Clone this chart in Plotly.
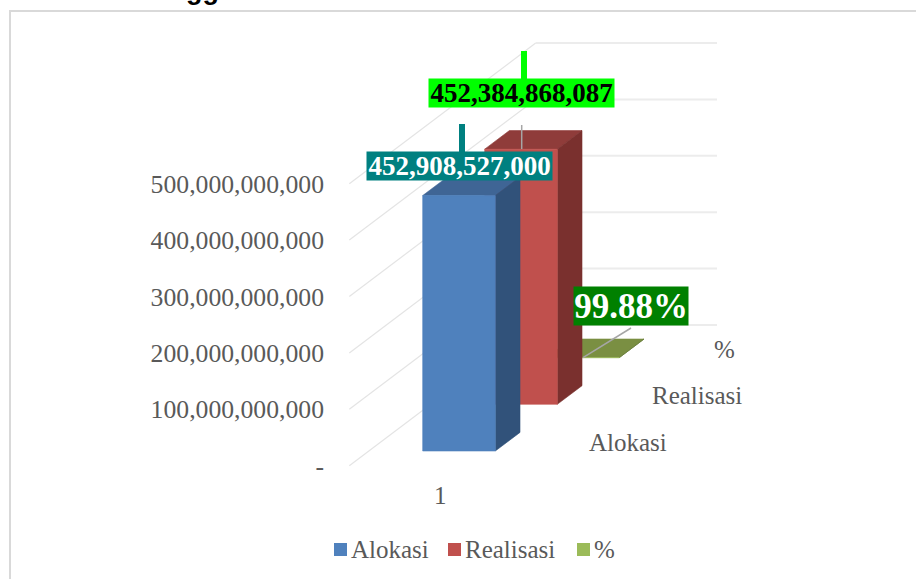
import plotly.graph_objects as go

# ---- data ----
categories = ["1"]
series_names = ["Alokasi", "Realisasi", "%"]
series_values = [452908527000, 452384868087, 0.9988]
series_labels = ["452,908,527,000", "452,384,868,087", "99.88%"]
tick_values = [0, 100e9, 200e9, 300e9, 400e9, 500e9]
tick_labels = ["-", "100,000,000,000", "200,000,000,000", "300,000,000,000",
               "400,000,000,000", "500,000,000,000"]

# ---- style ----
FRONT = ["#4f81bd", "#c0504d", "#9bbb59"]
SIDE = ["#31527a", "#7a302e", "#647a38"]
ROOF = ["#3f6595", "#8f3c3a", "#7a8f42"]
TXT = "#595959"
SERIF = "Liberation Serif"
W, H = 916, 579
PX_PER_VAL = 56.4 / 100e9   # pixels per unit of value
Y0 = 465.7                  # pixel row of value 0 at the front of the floor


def val(px_y):
    """value whose axis position is at pixel row px_y"""
    return (Y0 - px_y) / PX_PER_VAL


def lift(px):
    return px / PX_PER_VAL


BAR_X0, BAR_W = 422.7, 72.6
STEP_X, STEP_Y = 62.0, 46.7
DEPTH_X, DEPTH_Y = 24.7, 18.6
BASE_UP = 14.7
WALL_X, WALL_UP = 186.4, 140.7
FLOOR_X0, WALL_END = 349.3, 717.0

fig = go.Figure()

# gridlines
for i, t in enumerate(tick_values):
    fig.add_trace(go.Scatter(
        x=[FLOOR_X0, FLOOR_X0 + WALL_X], y=[t, t + lift(WALL_UP)], mode="lines",
        line=dict(color="#e4e4e4", width=1.2), showlegend=False, hoverinfo="skip"))
    fig.add_trace(go.Scatter(
        x=[FLOOR_X0 + WALL_X, WALL_END], y=[t + lift(WALL_UP)] * 2, mode="lines",
        line=dict(color="#ececec", width=2), showlegend=False, hoverinfo="skip"))


def poly(xs, ys, color):
    fig.add_trace(go.Scatter(
        x=xs + xs[:1], y=ys + ys[:1], mode="lines", fill="toself", fillcolor=color,
        line=dict(color=color, width=0.6), showlegend=False, hoverinfo="skip"))


# bars, back to front
for i in reversed(range(len(series_values))):
    x0 = BAR_X0 + i * STEP_X
    x1 = x0 + BAR_W
    b = lift(BASE_UP + i * STEP_Y)
    t = b + series_values[i]
    d = lift(DEPTH_Y)
    poly([x0, x1, x1 + DEPTH_X, x0 + DEPTH_X], [t, t, t + d, t + d], ROOF[i])
    poly([x1, x1 + DEPTH_X, x1 + DEPTH_X, x1], [b, b + d, t + d, t], SIDE[i])
    poly([x0, x1, x1, x0], [b, b, t, t], FRONT[i])

# legend entries: one legend per series, so each can sit at its own place.
# Plotly's swatch-to-text gap is wider than the reference's, so the swatch is a
# square drawn beside the entry text.
LEGEND_IDS = ["legend", "legend2", "legend3"]
LEGEND_SWATCH_X = [334, 448, 577]
LEGEND_TEXT_X = [352, 466, 595]
for i, n in enumerate(series_names):
    fig.add_trace(go.Scatter(
        x=[None], y=[None], mode="markers", name=n, legend=LEGEND_IDS[i],
        marker=dict(symbol="square", size=1, color="rgba(0,0,0,0)")))

# leader lines
shapes = [
    dict(type="rect", x0=459, x1=465, y0=val(152), y1=val(124), fillcolor="#008080", line_width=0),
    dict(type="rect", x0=521, x1=527, y0=val(79), y1=val(51), fillcolor="#00ff00", line_width=0),
    dict(type="line", x0=521.7, x1=521.7, y0=val(125), y1=val(149), line=dict(color="#a6a6a6", width=1.5)),
    dict(type="line", x0=631, x1=583, y0=val(328), y1=val(357.7), line=dict(color="#a6a6a6", width=1.5)),
    # chart frame
    dict(type="line", xref="paper", yref="paper", x0=10 / W, x1=10 / W, y0=0, y1=1 - 10 / H,
         line=dict(color="#d9d9d9", width=2)),
    dict(type="line", xref="paper", yref="paper", x0=9 / W, x1=1, y0=1 - 11 / H, y1=1 - 11 / H,
         line=dict(color="#d9d9d9", width=2)),
]
for i, sx in enumerate(LEGEND_SWATCH_X):
    shapes.append(dict(type="rect", x0=sx, x1=sx + 13, y0=val(556), y1=val(543),
                       fillcolor=FRONT[i], line_width=0))


def ann(text, x, y, size, color=TXT, **kw):
    return dict(text=text, x=x, y=val(y), xref="x", yref="y", showarrow=False,
                font=dict(family=SERIF, size=size, color=color),
                xanchor="center", yanchor="middle", **kw)


annotations = [
    ann(categories[0], 440, 495.5, 25),
    ann(series_names[0], 627.5, 442.5, 25),
    ann(series_names[1], 697, 395.5, 25),
    ann(series_names[2], 724, 349.5, 25),
    ann("<b>%s</b>" % series_labels[0], 459.5, 166, 27, "#ffffff",
        bgcolor="#008080", width=185, height=28, borderpad=0),
    ann("<b>%s</b>" % series_labels[1], 521.5, 93, 27, "#000000",
        bgcolor="#00ff00", width=185, height=28, borderpad=0),
    ann("<b>%s</b>" % series_labels[2], 631, 306, 35, "#ffffff",
        bgcolor="#008000", width=114, height=38, borderpad=0),
    dict(text="<b>gg</b>", x=202.5 / W, y=1, xref="paper", yref="paper", showarrow=False,
         font=dict(family="Liberation Sans", size=27, color="#000000"),
         xanchor="center", yanchor="middle", yshift=10),
]

layout_legends = {}
for i, lid in enumerate(LEGEND_IDS):
    layout_legends[lid] = dict(
        orientation="h", x=(LEGEND_TEXT_X[i] - 26) / W, xanchor="left", y=1 - 548.5 / H,
        yanchor="middle", font=dict(family=SERIF, size=25, color=TXT), indentation=-15,
        bgcolor="rgba(0,0,0,0)")

fig.update_layout(
    width=W, height=H, margin=dict(l=0, r=0, t=0, b=0),
    paper_bgcolor="white", plot_bgcolor="white",
    xaxis=dict(range=[0, W], visible=False, fixedrange=True),
    yaxis=dict(range=[val(H), val(0)], anchor="free", position=324 / W,
               tickvals=tick_values, ticktext=tick_labels, showgrid=False, zeroline=False,
               showline=False, ticks="", tickfont=dict(family=SERIF, size=25.7, color=TXT),
               fixedrange=True),
    shapes=shapes, annotations=annotations, **layout_legends,
)

fig.write_html("out.html", config={"displayModeBar": False},
               post_script="document.body.style.margin='0';document.body.style.overflow='hidden';")
